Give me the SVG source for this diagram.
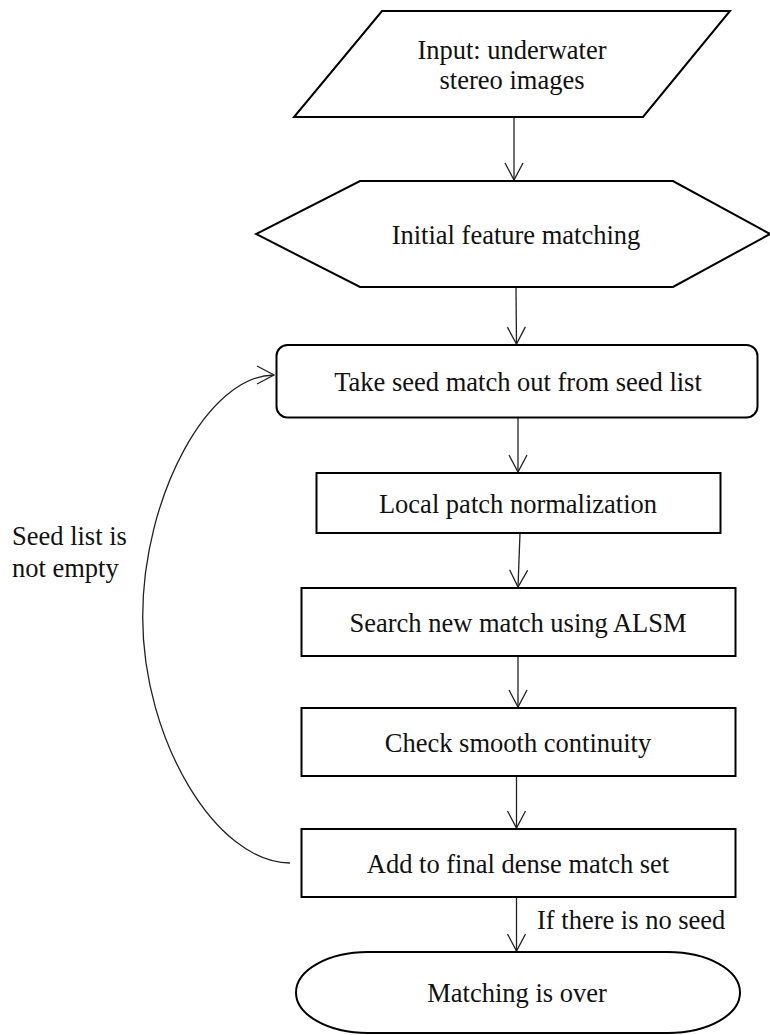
<svg xmlns="http://www.w3.org/2000/svg" width="770" height="1035" viewBox="0 0 770 1035">
<defs>
<style>
.shape{fill:#fff;stroke:#000;stroke-width:2}
.lbl{font-family:"Liberation Serif","Times New Roman",serif;font-size:26.5px;fill:#111}
.mid{text-anchor:middle}
.conn{fill:none;stroke:#222;stroke-width:1.3}
</style>
<marker id="arr" markerUnits="userSpaceOnUse" markerWidth="22" markerHeight="22" refX="18" refY="9.5" orient="auto" overflow="visible">
<path d="M1,0.5 L18,9.5 L1,18.5" fill="none" stroke="#222" stroke-width="1.3"/>
</marker>
</defs>
<rect width="770" height="1035" fill="#fff"/>
<g id="connectors">
<line class="conn" x1="514" y1="117" x2="514" y2="180" marker-end="url(#arr)"/>
<line class="conn" x1="516" y1="287" x2="516.5" y2="344" marker-end="url(#arr)"/>
<line class="conn" x1="518" y1="418" x2="518" y2="472" marker-end="url(#arr)"/>
<line class="conn" x1="520" y1="533" x2="518" y2="587" marker-end="url(#arr)"/>
<line class="conn" x1="518" y1="656" x2="518" y2="707" marker-end="url(#arr)"/>
<line class="conn" x1="516.5" y1="776" x2="516.5" y2="828" marker-end="url(#arr)"/>
<line class="conn" x1="516.5" y1="897" x2="516.5" y2="951" marker-end="url(#arr)"/>
<path class="conn" d="M290,863 C216.4,863 142.7,740 142.7,617 C142.7,496 208.4,375 274,375" marker-end="url(#arr)"/>
<text class="lbl" x="12" y="545">Seed list is</text>
<text class="lbl" x="12" y="577">not empty</text>
<text class="lbl" x="537" y="929">If there is no seed</text>
</g>
<g id="input">
<polygon class="shape" points="382,11 730,11 643,117 294,117"/>
<text class="lbl mid" x="512" y="59">Input: underwater</text>
<text class="lbl mid" x="512" y="89">stereo images</text>
</g>
<g id="initial">
<polygon class="shape" points="360,181 673,181 770,234 673,287 360,287 256,234"/>
<text class="lbl mid" x="516" y="244">Initial feature matching</text>
</g>
<g id="take">
<rect class="shape" x="276.5" y="345" width="481" height="72.5" rx="11" ry="11"/>
<text class="lbl mid" x="518" y="391">Take seed match out from seed list</text>
</g>
<g id="local">
<rect class="shape" x="316.5" y="473" width="404" height="60"/>
<text class="lbl mid" x="518" y="513">Local patch normalization</text>
</g>
<g id="search">
<rect class="shape" x="301.5" y="588" width="434" height="68"/>
<text class="lbl mid" x="518" y="632">Search new match using ALSM</text>
</g>
<g id="check">
<rect class="shape" x="301.5" y="708" width="434" height="68"/>
<text class="lbl mid" x="518" y="752">Check smooth continuity</text>
</g>
<g id="add">
<rect class="shape" x="301.5" y="829" width="434" height="68"/>
<text class="lbl mid" x="518" y="873">Add to final dense match set</text>
</g>
<g id="over">
<path class="shape" d="M368,952 H668 A72,40.5 0 0 1 668,1033 H368 A72,40.5 0 0 1 368,952 Z"/>
<text class="lbl mid" x="517" y="1002">Matching is over</text>
</g>
</svg>
